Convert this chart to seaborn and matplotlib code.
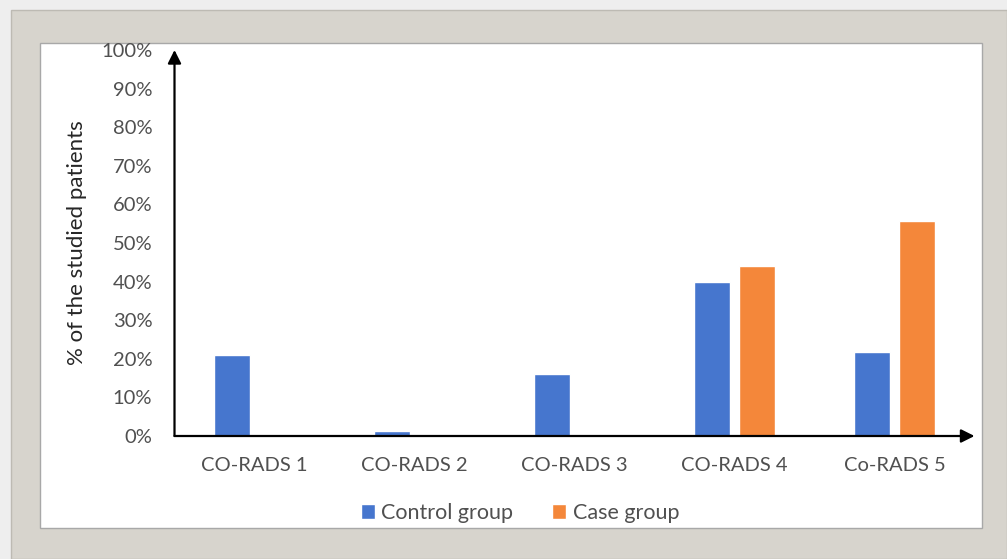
import matplotlib
matplotlib.use("Agg")

import pandas as pd
import matplotlib.pyplot as plt
import seaborn as sns
from matplotlib.patches import Rectangle
from matplotlib.ticker import PercentFormatter

# ======================
# DATA
# ======================
categories = ["CO-RADS 1", "CO-RADS 2", "CO-RADS 3", "CO-RADS 4", "Co-RADS 5"]
control_group = [21.0, 1.2, 16.0, 40.0, 21.8]
case_group = [0.0, 0.0, 0.0, 44.0, 55.8]
groups = ["Control group", "Case group"]
colors = ["#4676CE", "#F4873A"]
y_ticks = list(range(0, 101, 10))

df = pd.DataFrame({
    "category": categories * 2,
    "value": control_group + case_group,
    "group": [groups[0]] * len(categories) + [groups[1]] * len(categories),
})

# ======================
# FIGURE
# ======================
sns.set_theme(style="white")
plt.rcParams["font.family"] = ["Lato", "DejaVu Sans"]

W, H = 1007, 559
fig = plt.figure(figsize=(W / 100, H / 100), dpi=100)
fig.patch.set_facecolor("#EEEEEE")

# grey frame + white panel
fig.add_artist(Rectangle((11 / W, 0), 1 - 11 / W, 1 - 10 / H,
                         transform=fig.transFigure, facecolor="#D7D4CD",
                         edgecolor="#BDBAB3", lw=1, zorder=-2))
fig.add_artist(Rectangle((40 / W, 1 - 528 / H), (982 - 40) / W, (528 - 43) / H,
                         transform=fig.transFigure, facecolor="white",
                         edgecolor="#A8A8A8", lw=1, zorder=-1))

ax = fig.add_axes([174.5 / W, 123 / H, 800 / W, 386 / H])
ax.set_facecolor("none")

sns.barplot(data=df, x="category", y="value", hue="group",
            palette=colors, width=0.5625, gap=0.2, ax=ax,
            saturation=1, legend=True)

ax.set_xlim(-0.5, 4.5)
ax.set_ylim(0, 100)
ax.set_yticks(y_ticks)
ax.yaxis.set_major_formatter(PercentFormatter(decimals=0))
ax.set_xlabel("")
ax.set_ylabel("% of the studied patients", fontsize=16, color="#262626", labelpad=10)

ax.tick_params(axis="both", length=0, colors="#505050", labelsize=14.5)
ax.tick_params(axis="y", pad=16)
ax.tick_params(axis="x", pad=15)

for s in ax.spines.values():
    s.set_visible(False)

# axes with arrow heads
ax.annotate("", xy=(1.0, 0), xytext=(0, 0), xycoords="axes fraction",
            arrowprops=dict(arrowstyle="-|>", color="black", lw=1.6,
                            mutation_scale=20, shrinkA=0, shrinkB=0))
ax.annotate("", xy=(0, 1.0), xytext=(0, 0), xycoords="axes fraction",
            arrowprops=dict(arrowstyle="-|>", color="black", lw=1.6,
                            mutation_scale=20, shrinkA=0, shrinkB=0))

handles, labels = ax.get_legend_handles_labels()
ax.get_legend().remove()
fig.legend(handles, labels, loc="center", bbox_to_anchor=(520 / W, 1 - 513 / H),
           ncol=2, frameon=False, fontsize=15.5, handlelength=0.65, handleheight=0.65,
           handletextpad=0.3, columnspacing=1.8, labelcolor="#505050")

fig.savefig("out.png", dpi=100, facecolor=fig.get_facecolor())
